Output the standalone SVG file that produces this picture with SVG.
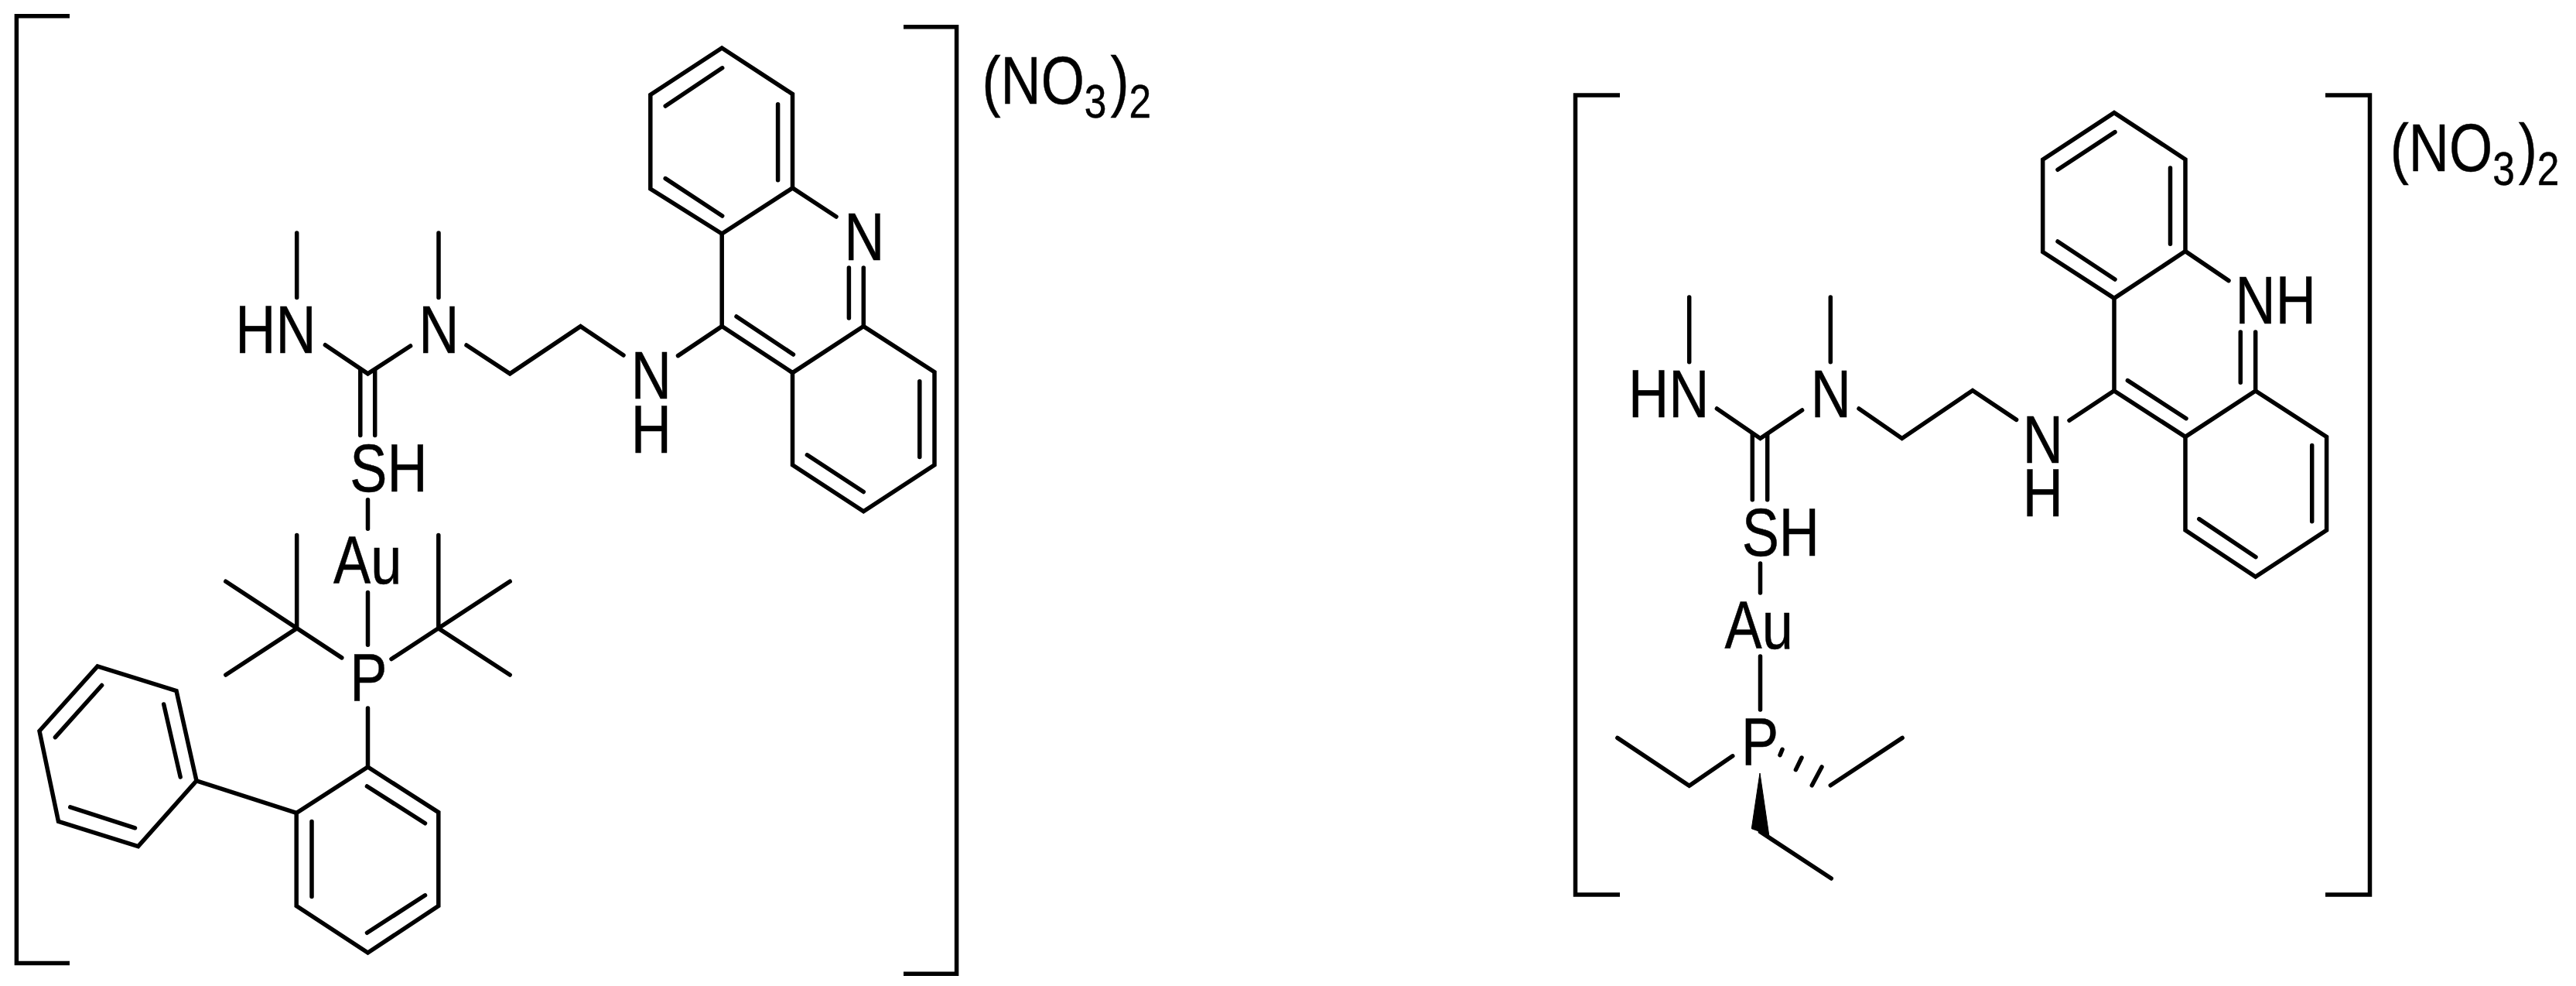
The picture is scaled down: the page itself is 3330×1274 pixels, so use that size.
<svg xmlns="http://www.w3.org/2000/svg" width="3330" height="1274" viewBox="0 0 3330 1274">
<style>
text{font-family:"Liberation Sans",Arial,sans-serif;font-size:87px;fill:#000;stroke:#000;stroke-width:.5}
.sub{font-size:62px}
#connectors path{fill:none;stroke:#000;stroke-width:5.5;stroke-linecap:round;stroke-linejoin:miter}
.br{fill:none;stroke:#000;stroke-width:5.5;stroke-linecap:butt;stroke-linejoin:miter}
</style>
<rect width="3330" height="1274" fill="#fff"/>
<g id="connectors">
<!-- molecule 1 -->
<path d="M383.7 301V384.5M567 301V384.5"/>
<path d="M420.4 445.7L475.5 482.9L530.6 447"/>
<path d="M465.8 477.5V562.4M484.7 477.5V562.4"/>
<path d="M603 446L659.2 482.9L750.5 421.6L806 459"/>
<path d="M876.5 459.6L933.2 421.6"/>
<path d="M475.5 645.7V683.3M475.5 765.4V833.3M475.5 915V991"/>
<path d="M383.7 691.4V811.9M291.8 751.2L441.8 849.9M291.8 872L383.7 811.9"/>
<path d="M566.8 691.4V811.9M659.2 751.2L506 851.5M659.2 872L566.8 811.9"/>
<path d="M475.5 991L566.8 1049.6V1170.5L475.5 1231L383.2 1170.5V1050.4Z"/>
<path d="M474.5 1016L549.5 1063.8M403 1061.4V1158.4M474.5 1205.3L549.5 1156.8"/>
<path d="M254 1008.8L383.2 1050.4"/>
<path d="M254 1008.8L178.6 1093.7L75.5 1061.4L51 944.5L126 860.8L228 892.7Z"/>
<path d="M233.2 1004L211.7 910M131.6 885.5L71.4 952.6M90.8 1042.8L174.5 1069.8"/>
<path d="M933.2 62L1024.5 121.6V242.9L933.2 302L840.8 244V122.4Z"/>
<path d="M933.7 87.8L860.2 137M1005.6 134.7V232.7M860.2 230.6L933.7 279"/>
<path d="M1024.5 242.9L1081 280M933.2 302V421.6L1024.5 481.6L1116.3 421.6V346M1097.4 346V411M952 409L1025.5 458"/>
<path d="M1116.3 421.6L1208 480.8V600.8L1116.3 660.8L1024.5 600.8V481.6"/>
<path d="M1188.8 492.7V590.6M1043.4 587.8L1116.3 635.5"/>
<!-- molecule 2 -->
<path d="M2183.7 384V467.8M2366.3 384V467.8"/>
<path d="M2219.4 528L2275.5 566.5L2329.6 530"/>
<path d="M2265.3 560.8V645.7M2284.7 560.8V645.7"/>
<path d="M2403 528L2458.7 566.5L2550 504.5L2606.6 542.4"/>
<path d="M2675 543.3L2732.7 505"/>
<path d="M2275.5 728V766M2275.5 848V917"/>
<path d="M2090.8 953.4L2183.7 1015.3L2239.8 976.8"/>
<path d="M2304 968.4L2301 975.6M2329 979L2321.4 994.6M2355 991L2342.3 1014.8"/>
<path d="M2366.3 1014.8L2459.2 953.4"/>
<path d="M2275.5 1074.7L2367.3 1135"/>
<path d="M2733 145.6L2825 205.9V324.6L2733 385.4L2640.7 325.5V206.3Z"/>
<path d="M2734 170.6L2660 219.3M2805.5 217V315.3M2660 312L2734 361"/>
<path d="M2825 324.6L2881 362.6M2733 385.4V505L2825 564.4L2915.7 505V429M2896.3 429V494.3M2750.4 491.6L2826 540.7"/>
<path d="M2915.7 505L3007.6 564.4V685L2915.7 745.2L2825 685V564.4"/>
<path d="M2988.7 575.5V673.8M2842.8 670.6L2916 719.7"/>
<polygon points="2275,999 2264.3,1070.7 2286.7,1078.7" fill="#000" stroke="#000" stroke-width="1"/>
</g>
<g id="bracket-1-left"><path class="br" d="M90 20.8H21.4V1244.4H90"/></g>
<g id="bracket-1-right"><path class="br" d="M1168 34.7H1236.6V1258.3H1168"/></g>
<g id="bracket-2-left"><path class="br" d="M2094 122.9H2036.5V1156H2094"/></g>
<g id="bracket-2-right"><path class="br" d="M3006 122.9H3063.5V1156H3006"/></g>
<g id="m1-HN"><text transform="translate(304.3 455.5) scale(.83 1)">HN</text></g>
<g id="m1-N"><text transform="translate(541.3 455.5) scale(.83 1)">N</text></g>
<g id="m1-SH"><text transform="translate(452.3 634.7) scale(.83 1)">SH</text></g>
<g id="m1-Au"><text transform="translate(431 754) scale(.83 1)">Au</text></g>
<g id="m1-P"><text transform="translate(452.3 904.5) scale(.83 1)">P</text></g>
<g id="m1-NH"><text transform="translate(815.7 515) scale(.83 1)">N</text><text transform="translate(815.7 584.5) scale(.83 1)">H</text></g>
<g id="m1-N-ring"><text transform="translate(1091.3 335.5) scale(.83 1)">N</text></g>
<g id="m1-NO3"><text transform="translate(1269.5 133.5) scale(.83 1)">(NO<tspan class="sub" dy="18">3</tspan><tspan dy="-18" dx="6">)</tspan><tspan class="sub" dy="18">2</tspan></text></g>
<g id="m2-HN"><text transform="translate(2105 538.8) scale(.83 1)">HN</text></g>
<g id="m2-N"><text transform="translate(2340.7 538.8) scale(.83 1)">N</text></g>
<g id="m2-SH"><text transform="translate(2251.7 717.5) scale(.83 1)">SH</text></g>
<g id="m2-Au"><text transform="translate(2229.6 837.7) scale(.83 1)">Au</text></g>
<g id="m2-P"><text transform="translate(2250.9 987.8) scale(.83 1)">P</text></g>
<g id="m2-NH"><text transform="translate(2614.7 597.6) scale(.83 1)">N</text><text transform="translate(2614.7 667) scale(.83 1)">H</text></g>
<g id="m2-NH-ring"><text transform="translate(2889.6 418.4) scale(.83 1)">NH</text></g>
<g id="m2-NO3"><text transform="translate(3089.8 220.6) scale(.83 1)">(NO<tspan class="sub" dy="18">3</tspan><tspan dy="-18" dx="6">)</tspan><tspan class="sub" dy="18">2</tspan></text></g>
</svg>
